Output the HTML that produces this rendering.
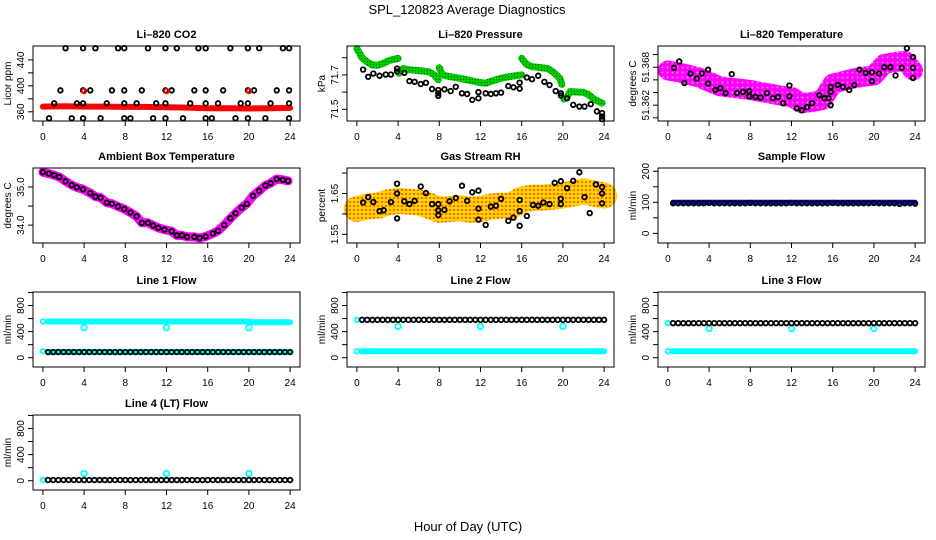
<!DOCTYPE html>
<html><head><meta charset="utf-8"><style>
html,body{margin:0;padding:0;background:#fff;}
svg{display:block;font-family:"Liberation Sans",sans-serif;}
</style></head><body>
<svg id="chart" width="936" height="540" viewBox="0 0 936 540" xmlns="http://www.w3.org/2000/svg">
<defs>
<pattern id="rhdots" width="4" height="4" patternUnits="userSpaceOnUse">
<rect width="4" height="4" fill="#ffd700"/><circle cx="2" cy="2" r="1.2" fill="#ff6a00"/>
</pattern>
<pattern id="grdots" width="3" height="3" patternUnits="userSpaceOnUse">
<rect width="3" height="3" fill="#00cc00"/><circle cx="1.5" cy="1.5" r="0.6" fill="#006600"/>
</pattern>
<pattern id="mgdots" width="5" height="5" patternUnits="userSpaceOnUse">
<rect width="5" height="5" fill="#ff00ff"/><circle cx="2.5" cy="2.5" r="1" fill="#ff88ff"/>
</pattern>
</defs>
<text x="467" y="14" text-anchor="middle" font-size="13">SPL_120823  Average Diagnostics</text>
<text x="468" y="531" text-anchor="middle" font-size="13">Hour of Day (UTC)</text>
</svg>
<script>
// ---------- data ----------
const xTicks = [0,4,8,12,16,20,24];
// CO2
const co2BandT = [0,2,4,6,8,10,12,14,16,18,20,22,24];
const co2BandV = [368,368.5,368,368,367.5,367.5,367,366.5,365.5,365.5,365,365.5,366];
const co2TopT = [2.2,3.9,5.1,7.3,7.9,10.2,11.9,13.0,15.1,15.8,18.2,19.9,21.0,23.3,23.9];
const co2MidT = [1.7,3.9,4.6,6.7,7.9,9.6,11.9,12.5,14.7,15.8,17.5,19.9,20.5,22.7,23.9];
const co2LowT = [1.1,3.3,3.9,6.2,7.9,9.1,11.0,11.9,14.3,15.8,17.0,19.2,19.9,22.1,23.9];
const co2BotT = [0.6,2.8,3.9,5.6,7.9,8.5,10.7,11.9,13.6,15.8,16.4,18.7,19.9,21.6,23.9];
const co2Levels = [458,393,373,350];
const co2RedT = [4,12,20];
const co2RedV = [392,392,392];
// Pressure
const presSeg1T = [0,0.5,1,1.5,2,2.5,3,3.5,4];
const presSeg1V = [71.853,71.80,71.775,71.758,71.756,71.765,71.78,71.79,71.796];
const presSeg2T = [4.1,4.5,5,6,7,7.5,7.9];
const presSeg2V = [71.71,71.737,71.73,71.725,71.718,71.70,71.672];
const presSeg3T = [8,8.3,9,10,11,11.5,12,12.5,13,14,15,16];
const presSeg3V = [71.742,71.70,71.69,71.68,71.668,71.661,71.655,71.652,71.662,71.681,71.692,71.700];
const presSeg4T = [16,16.5,17,17.5,18.5,19,19.7,19.9];
const presSeg4V = [71.796,71.76,71.748,71.745,71.737,71.72,71.681,71.645];
const presSeg5T = [20.1,20.4,20.7,21.5,22,22.5,23,23.8];
const presSeg5V = [71.56,71.57,71.603,71.60,71.598,71.585,71.56,71.536];
const presBlkT = [0.6,1.1,1.6,2.2,2.8,3.3,3.9,3.9,4.6,5.1,5.6,6.2,6.7,7.3,7.9,7.9,7.9,8.5,9.1,9.6,10.2,10.7,11.2,11.8,11.8,12.5,13,13.5,14,14.7,15.2,15.8,15.8,16.5,17,17.6,18.2,18.7,19.3,19.8,19.8,20.4,21.0,21.6,22.1,22.7,23.3,23.8,23.8,23.8];
const presBlkV = [71.731,71.689,71.708,71.695,71.702,71.702,71.737,71.72,71.712,71.664,71.660,71.647,71.654,71.618,71.612,71.593,71.578,71.616,71.606,71.631,71.593,71.589,71.555,71.564,71.60,71.593,71.589,71.593,71.597,71.635,71.628,71.655,71.62,71.685,71.675,71.695,71.660,71.641,71.606,71.593,71.58,71.564,71.526,71.516,71.516,71.530,71.488,71.478,71.458,71.443];
// Li-820 Temperature
const tmpBandT = [0,1,2,3,4,5,6,7,8,9,10,11,12,13,14,15,16,17,18,19,20,21,22,23,23.8];
const tmpBandV = [51.3675,51.3672,51.3668,51.3664,51.3657,51.3650,51.3648,51.3646,51.3644,51.3641,51.3638,51.3635,51.3633,51.3623,51.3625,51.3628,51.3654,51.3658,51.3662,51.3665,51.3667,51.3685,51.3688,51.3690,51.3675];
const tmpBlkT = [0.6,1.1,1.6,2.2,2.8,3.3,3.9,3.9,4.6,5.1,5.6,6.2,6.7,7.3,7.9,7.9,8.5,9.0,9.6,10.2,10.7,11.2,11.8,11.8,12.5,13.0,13.5,14.0,14.7,15.2,15.6,15.8,15.8,15.8,16.5,17.0,17.6,18.1,18.6,19.2,19.8,19.8,20.5,21.0,21.6,22.1,22.7,23.2,23.8,23.8,23.8];
const tmpBlkV = [51.3679,51.3689,51.3655,51.3670,51.3662,51.3670,51.3676,51.3654,51.3644,51.3647,51.3639,51.3669,51.3639,51.3641,51.3642,51.3634,51.3633,51.3632,51.3639,51.3631,51.3633,51.3623,51.3651,51.3634,51.3615,51.3612,51.3617,51.3623,51.3636,51.3631,51.3631,51.3620,51.3641,51.3649,51.3652,51.3649,51.3644,51.3652,51.3676,51.3671,51.3672,51.3658,51.3670,51.3680,51.3680,51.3667,51.3679,51.3710,51.3696,51.3679,51.3663];
// Ambient box temperature
const ambT = [0,0.6,1.1,1.6,2.2,2.8,3.3,3.9,4.6,5.1,5.6,6.2,6.7,7.3,7.9,8.5,9.1,9.6,10.2,10.7,11.2,11.8,12.5,13,13.5,14,14.7,15.2,15.8,16.5,17,17.6,18.2,18.7,19.3,19.8,20.4,21,21.6,22.1,22.7,23.3,23.8];
const ambV = [35.39,35.35,35.31,35.26,35.15,35.05,34.99,34.94,34.84,34.75,34.72,34.59,34.56,34.49,34.42,34.33,34.23,34.06,34.06,33.99,33.93,33.88,33.84,33.73,33.73,33.69,33.69,33.66,33.70,33.78,33.85,34.00,34.18,34.31,34.46,34.56,34.77,34.90,35.04,35.10,35.21,35.19,35.16];
// Gas stream RH
const rhBandT = [0,1,2,3,4,5,6,7,8,9,10,11,12,13,14,15,16,17,18,19,20,21,22,23,24];
const rhBandV = [1.612,1.618,1.62,1.628,1.632,1.63,1.628,1.62,1.61,1.612,1.614,1.61,1.612,1.618,1.62,1.62,1.635,1.64,1.64,1.642,1.645,1.65,1.655,1.65,1.645];
const rhBlkT = [0.6,1.1,1.6,2.2,2.6,3.3,3.9,3.9,3.9,4.6,5.1,5.6,6.2,6.7,7.3,7.9,7.9,7.9,8.5,9.0,9.6,10.2,10.7,11.2,11.8,11.8,11.8,12.5,13,13.5,14,14.7,15.2,15.8,15.8,15.8,16.5,17.1,17.6,18.1,18.7,19.2,19.8,19.8,19.8,20.4,21.0,21.6,22.1,22.6,23.2,23.8,23.8,23.8];
const rhBlkV = [1.628,1.641,1.629,1.607,1.609,1.629,1.674,1.650,1.589,1.631,1.624,1.632,1.667,1.651,1.624,1.624,1.609,1.597,1.610,1.631,1.639,1.669,1.632,1.653,1.657,1.613,1.586,1.573,1.618,1.620,1.637,1.583,1.591,1.634,1.607,1.571,1.595,1.622,1.620,1.628,1.624,1.676,1.680,1.637,1.624,1.663,1.681,1.702,1.641,1.602,1.672,1.666,1.650,1.626];
// Flows (half-hour samples)
const flowT = [0.5,1,1.5,2,2.5,3,3.5,4,4.5,5,5.5,6,6.5,7,7.5,8,8.5,9,9.5,10,10.5,11,11.5,12,12.5,13,13.5,14,14.5,15,15.5,16,16.5,17,17.5,18,18.5,19,19.5,20,20.5,21,21.5,22,22.5,23,23.5,24];
const sampleBlue = [100,100,100,100,100,100,100,100,100,100,100,100,100,100,100,100,100,100,100,100,100,100,100,100,100,100,100,100,100,100,100,100,100,100,100,100,100,100,100,100,100,100,100,100,100,100,100,100];
const sampleBlack = [97,97,97,97,97,97,97,98,97,97,97,97,97,97,97,98,97,97,97,97,97,97,97,98,97,97,97,97,97,97,97,98,97,97,97,97,97,97,97,98,97,97,97,97,95,97,97,96];
const line1Cyan = [555,555,555,555,555,555,555,555,555,555,555,555,555,555,555,555,555,555,555,555,555,555,555,555,555,555,555,555,555,555,555,555,555,555,555,555,555,555,555,550,545,545,545,545,545,545,545,545];
const line1Black = [87,87,87,87,87,87,87,87,87,87,87,87,87,87,87,87,87,87,87,87,87,87,87,87,87,87,87,87,87,87,87,87,87,87,87,87,87,87,87,87,87,87,87,87,87,87,87,87];
const line2Black = [581,581,581,581,581,581,581,581,581,581,581,581,581,581,581,581,581,581,581,581,581,581,581,581,581,581,581,581,581,581,581,581,581,581,581,581,581,581,581,581,581,581,581,581,581,581,581,581];
const line2Cyan = [98,98,98,98,98,98,98,98,98,98,98,98,98,98,98,98,98,98,98,98,98,98,98,98,98,98,98,98,98,98,98,98,98,98,98,98,98,98,98,98,98,98,98,98,98,98,98,98];
const line3Black = [530,530,530,530,530,530,530,530,530,530,530,530,530,530,530,530,530,530,530,530,530,530,530,530,530,530,530,530,530,530,530,530,530,530,530,530,530,530,530,530,530,530,530,530,530,530,530,530];
const line3Cyan = [98,98,98,98,98,98,98,98,98,98,98,98,98,98,98,98,98,98,98,98,98,98,98,98,98,98,98,98,98,98,98,98,98,98,98,98,98,98,98,98,98,98,98,98,98,98,98,98];
const line4Black = [10,10,10,10,10,10,10,10,10,10,10,10,10,10,10,10,10,10,10,10,10,10,10,10,10,10,10,10,10,10,10,10,10,10,10,10,10,10,10,10,10,10,10,10,10,10,10,10];
const dipT = [4,12,20];
const line1Dip = [460,460,460];
const line2Dip = [480,480,480];
const line3Dip = [450,450,450];
const line4Dip = [110,110,110];
const flowStartV1 = [100,555];
const flowStartV2 = [581,98];
const flowStartV3 = [530,98];
const flowStartV4 = [10];
// ---------- drawing ----------
const NS = "http://www.w3.org/2000/svg";
const svg = document.getElementById('chart');
const colLeft = [33,347,658], colW = 267;
const rowTop = [46,168,292,415], rowH = 75;
function mk(tag, attrs, parent){
  const e = document.createElementNS(NS, tag);
  for (const k in attrs) e.setAttribute(k, attrs[k]);
  (parent||svg).appendChild(e);
  return e;
}
function panel(name, col, row, title, ylab, ymin, ymax, ticks, labels){
  const L = colLeft[col], T = rowTop[row];
  const g = mk('g', {});
  
  
  const sx = t => L + (t + 0.96) / 25.92 * colW;
  const sy = v => T + rowH - (v - ymin) / (ymax - ymin) * rowH;
  const tt = mk('text', {x: L + colW/2, y: T - 8, 'text-anchor':'middle', 'font-size':'11', 'font-weight':'bold'}, g);
  tt.textContent = title;
  
  
  const yl = mk('text', {x: 0, y: 0, 'text-anchor':'middle', 'font-size':'10', transform:`translate(${L-22},${T+rowH/2}) rotate(-90)`}, g);
  yl.textContent = ylab;
  
  
  const plot = mk('g', {}, g);
  
  
  const ax = mk('g', {stroke:'#000', 'stroke-width':'1', fill:'none'}, g);
  
  
  mk('rect', {x:L, y:T, width:colW, height:rowH}, ax);
  mk('line', {x1:sx(0), x2:sx(24), y1:T+rowH, y2:T+rowH}, ax);
  xTicks.forEach(t => {
    mk('line', {x1:sx(t), x2:sx(t), y1:T+rowH, y2:T+rowH+5}, ax);
    const lb = mk('text', {x:sx(t), y:T+rowH+19, 'text-anchor':'middle', 'font-size':'10', fill:'#000', stroke:'none'}, g);
    lb.textContent = t;
    
    
  });
  mk('line', {x1:L, x2:L, y1:sy(ticks[0]), y2:sy(ticks[ticks.length-1])}, ax);
  ticks.forEach((v,i) => {
    mk('line', {x1:L-5, x2:L, y1:sy(v), y2:sy(v)}, ax);
    if (labels[i] !== '') {
      const lb = mk('text', {x:0, y:0, 'text-anchor':'middle', 'font-size':'10', fill:'#000', stroke:'none', transform:`translate(${L-9},${sy(v)}) rotate(-90)`}, g);
      lb.textContent = labels[i];
      
      
    }
  });
  return {sx, sy, plot};
}
function band(p, T, V, color, w, name){
  const pts = T.map((t,i) => p.sx(t).toFixed(1) + ',' + p.sy(V[i]).toFixed(1)).join(' ');
  const e = mk('polyline', {points:pts, fill:'none', stroke:color, 'stroke-width':w, 'stroke-linejoin':'round', 'stroke-linecap':'round'}, p.plot);
  
  
}
function pts(p, T, V, color, name, r){
  T.forEach((t,i) => {
    const c = mk('circle', {cx:p.sx(t), cy:p.sy(V[i]), r:r||2.3, fill:'none', stroke:color, 'stroke-width':'1.8'}, p.plot);
    
    
  });
}
// CO2
let p = panel('co2', 0, 0, 'Li\u2013820 CO2', 'Licor ppm', 345.8, 461.4, [360,380,400,420,440], ['360','','400','','440']);
band(p, co2BandT, co2BandV, '#ff0000', 6, 'co2-band');
[co2TopT, co2MidT, co2LowT, co2BotT].forEach((T,k) => pts(p, T, T.map(() => co2Levels[k]), '#000', 'co2-point'));
pts(p, co2RedT, co2RedV, '#ff0000', 'co2-red-point');
// Pressure
p = panel('pressure', 1, 0, 'Li\u2013820 Pressure', 'kPa', 71.432, 71.868, [71.5,71.6,71.7,71.8], ['71.5','','71.7','']);
[[presSeg1T,presSeg1V],[presSeg2T,presSeg2V],[presSeg3T,presSeg3V],[presSeg4T,presSeg4V],[presSeg5T,presSeg5V]].forEach(s => band(p, s[0], s[1], 'url(#grdots)', 7, 'pressure-band'));
pts(p, presBlkT, presBlkV, '#000', 'pressure-point');
// Li-820 temperature
p = panel('li820-temp', 2, 0, 'Li\u2013820 Temperature', 'degrees C', 51.3595, 51.37135, [51.370,51.368,51.366,51.364,51.362,51.360], ['','51.368','','','51.362','']);
band(p, tmpBandT, tmpBandV, 'url(#mgdots)', 20, 'li820-temp-band');
pts(p, tmpBlkT, tmpBlkV, '#000', 'li820-temp-point');
// Ambient
p = panel('ambient', 0, 1, 'Ambient Box Temperature', 'degrees C', 33.53, 35.5, [34.0,34.5,35.0], ['34.0','','35.0']);
band(p, ambT, ambV, '#ff00ff', 9, 'ambient-band');
pts(p, ambT, ambV, '#000', 'ambient-point');
// RH
p = panel('rh', 1, 1, 'Gas Stream RH', 'percent', 1.5288, 1.7124, [1.55,1.60,1.65,1.70], ['1.55','','1.65','']);
band(p, rhBandT, rhBandV, 'url(#rhdots)', 26, 'rh-band');
pts(p, rhBlkT, rhBlkV, '#000', 'rh-point');
// Sample flow
p = panel('sample-flow', 2, 1, 'Sample Flow', 'ml/min', -31, 210.5, [0,50,100,150,200], ['0','','100','','200']);
band(p, flowT, sampleBlue, '#0000ff', 5, 'sample-flow-band');
pts(p, flowT, sampleBlack, '#000', 'sample-flow-point');
// Line flows
const fmin = -143, fmax = 1008, fticks = [0,200,400,600,800,1000], flabs = ['0','','400','','800',''];
p = panel('line1-flow', 0, 2, 'Line 1 Flow', 'ml/min', fmin, fmax, fticks, flabs);
band(p, flowT, line1Cyan, '#00ffff', 6, 'line1-cyan-band');
band(p, flowT, line1Black, '#00ffff', 6, 'line1-cyan-low-band');
pts(p, [0,0], flowStartV1, '#00ffff', 'line1-start-point');
pts(p, dipT, line1Dip, '#00ffff', 'line1-dip-point', 2.8);
pts(p, flowT, line1Black, '#000', 'line1-point');
p = panel('line2-flow', 1, 2, 'Line 2 Flow', 'ml/min', fmin, fmax, fticks, flabs);
band(p, flowT, line2Cyan, '#00ffff', 6, 'line2-cyan-band');
pts(p, [0,0], flowStartV2, '#00ffff', 'line2-start-point');
pts(p, dipT, line2Dip, '#00ffff', 'line2-dip-point', 2.8);
pts(p, flowT, line2Black, '#000', 'line2-point');
p = panel('line3-flow', 2, 2, 'Line 3 Flow', 'ml/min', fmin, fmax, fticks, flabs);
band(p, flowT, line3Cyan, '#00ffff', 6, 'line3-cyan-band');
pts(p, [0,0], flowStartV3, '#00ffff', 'line3-start-point');
pts(p, dipT, line3Dip, '#00ffff', 'line3-dip-point', 2.8);
pts(p, flowT, line3Black, '#000', 'line3-point');
p = panel('line4-flow', 0, 3, 'Line 4 (LT) Flow', 'ml/min', fmin, fmax, fticks, flabs);
pts(p, [0], flowStartV4, '#00ffff', 'line4-start-point');
pts(p, dipT, line4Dip, '#00ffff', 'line4-dip-point', 2.8);
pts(p, flowT, line4Black, '#000', 'line4-point');
</script>
</body></html>
